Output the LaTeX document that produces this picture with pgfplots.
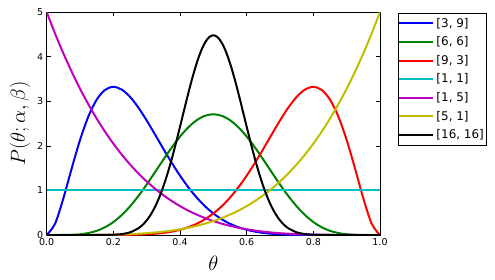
\documentclass[border=0pt]{standalone}
\usepackage{fontspec}
\setmainfont{DejaVu Sans}
\usepackage{pgfplots}
\usepackage{pgfplotstable}
\pgfplotsset{compat=1.18}
\definecolor{mb}{rgb}{0,0,1}
\definecolor{mg}{rgb}{0,0.5,0}
\definecolor{mr}{rgb}{1,0,0}
\definecolor{mc}{rgb}{0,0.75,0.75}
\definecolor{mm}{rgb}{0.75,0,0.75}
\definecolor{my}{rgb}{0.75,0.75,0}
\pgfplotstableread{
x b39 b66 b93 b15 b51
0 0 0 0 5 0
0.025 0.2527 0.00002 0 4.5184 0
0.05 0.8210 0.0007 0 4.0725 0.00003
0.075 1.4924 0.0045 0 3.6605 0.00016
0.1 2.1308 0.0164 0 3.2805 0.0005
0.125 2.6576 0.0434 0.00002 2.9309 0.0012
0.15 3.0349 0.0935 0.0001 2.6100 0.0025
0.175 3.2535 0.1741 0.0003 2.3163 0.0047
0.2 3.3219 0.2907 0.0008 2.0480 0.0080
0.225 3.2615 0.4473 0.0020 1.8038 0.0128
0.25 3.0973 0.6424 0.0042 1.5820 0.0195
0.275 2.8577 0.8738 0.0085 1.3814 0.0286
0.3 2.5682 1.1321 0.0159 1.2005 0.0405
0.325 2.2533 1.4084 0.0281 1.0380 0.0558
0.35 1.9322 1.6892 0.0471 0.8925 0.0750
0.375 1.6207 1.9606 0.0756 0.7629 0.0989
0.4 1.3302 2.2072 0.1168 0.6480 0.1280
0.425 1.0685 2.4159 0.1743 0.5466 0.1631
0.45 0.8393 2.5744 0.2518 0.4575 0.2050
0.475 0.6445 2.6734 0.3536 0.3798 0.2545
0.5 0.4834 2.7070 0.4834 0.3125 0.3125
0.525 0.3536 2.6734 0.6445 0.2545 0.3798
0.55 0.2518 2.5744 0.8393 0.2050 0.4575
0.575 0.1743 2.4159 1.0685 0.1631 0.5466
0.6 0.1168 2.2072 1.3302 0.1280 0.6480
0.625 0.0756 1.9606 1.6207 0.0989 0.7629
0.65 0.0471 1.6892 1.9322 0.0750 0.8925
0.675 0.0281 1.4084 2.2533 0.0558 1.0380
0.7 0.0159 1.1321 2.5682 0.0405 1.2005
0.725 0.0085 0.8738 2.8577 0.0286 1.3814
0.75 0.0042 0.6424 3.0973 0.0195 1.5820
0.775 0.0020 0.4473 3.2615 0.0128 1.8038
0.8 0.0008 0.2907 3.3219 0.0080 2.0480
0.825 0.0003 0.1741 3.2535 0.0047 2.3163
0.85 0.0001 0.0935 3.0349 0.0025 2.6100
0.875 0.00002 0.0434 2.6576 0.0012 2.9309
0.9 0 0.0164 2.1308 0.0005 3.2805
0.925 0 0.0045 1.4924 0.00016 3.6605
0.95 0 0.0007 0.8210 0.00003 4.0725
0.975 0 0.00002 0.2527 0 4.5184
1 0 0 0 0 5
}\betatab
\pgfplotstableread{
x y
0 0
0.1 0
0.15 0.0002
0.175 0.0012
0.2 0.0055
0.225 0.0202
0.25 0.0599
0.275 0.1504
0.2875 0.2257
0.3 0.3276
0.3125 0.4612
0.325 0.6307
0.3375 0.8392
0.35 1.0883
0.3625 1.3767
0.375 1.7009
0.3875 2.0544
0.4 2.4277
0.4125 2.8087
0.425 3.1833
0.4375 3.5362
0.45 3.8517
0.4625 4.1151
0.475 4.3134
0.4875 4.4366
0.5 4.4784
0.5125 4.4366
0.525 4.3134
0.5375 4.1151
0.55 3.8517
0.5625 3.5362
0.575 3.1833
0.5875 2.8087
0.6 2.4277
0.6125 2.0544
0.625 1.7009
0.6375 1.3767
0.65 1.0883
0.6625 0.8392
0.675 0.6307
0.6875 0.4612
0.7 0.3276
0.7125 0.2257
0.725 0.1504
0.75 0.0599
0.775 0.0202
0.8 0.0055
0.825 0.0012
0.85 0.0002
0.9 0
1 0
}\betasixteen
\begin{document}
\begin{tikzpicture}
\useasboundingbox (-46.7bp,-45bp) rectangle (448.3bp,235bp);
\begin{axis}[
  scale only axis,
  width=333.3bp, height=223bp,
  xmin=0, xmax=1, ymin=0, ymax=5,
  xtick={0,0.2,0.4,0.6,0.8,1},
  ytick={0,1,2,3,4,5},
  xticklabel style={/pgf/number format/.cd,fixed,fixed zerofill,precision=1},
  /pgf/number format/assume math mode=true,
  tick label style={font=\fontsize{9.5}{11}\selectfont},
  tick align=inside,
  major tick length=4bp,
  tick style={black, line width=0.5pt},
  axis line style={black, line width=0.8pt},
  xlabel={$\theta$},
  ylabel={$P(\theta;\alpha,\beta)$},
  label style={font=\fontsize{20}{21}\selectfont},
  xlabel style={at={(axis description cs:0.5,-0.125)},anchor=center},
  ylabel style={at={(axis description cs:-0.08,0.5)},anchor=center},
  legend style={at={(1.054,0.996)}, anchor=north west, draw=black, line width=0.6pt,
     font=\fontsize{12}{13}\selectfont, row sep=4bp, inner xsep=0bp, inner ysep=3bp},
  legend cell align=left,
  legend image code/.code={\path (-7bp,0bp) -- (27bp,0bp);\draw[#1, line width=2pt] (0bp,0bp) -- (19bp,0bp);},
]
\addplot[mb, smooth, line width=2pt] table[x=x,y=b39] {\betatab};
\addlegendentry{[3, 9]}
\addplot[mg, smooth, line width=2pt] table[x=x,y=b66] {\betatab};
\addlegendentry{[6, 6]}
\addplot[mr, smooth, line width=2pt] table[x=x,y=b93] {\betatab};
\addlegendentry{[9, 3]}
\addplot[mc, line width=2.2pt] coordinates {(0,1) (1,1)};
\addlegendentry{[1, 1]}
\addplot[mm, smooth, line width=2pt] table[x=x,y=b15] {\betatab};
\addlegendentry{[1, 5]}
\addplot[my, smooth, line width=2pt] table[x=x,y=b51] {\betatab};
\addlegendentry{[5, 1]}
\addplot[black, smooth, line width=2pt] table[x=x,y=y] {\betasixteen};
\addlegendentry{[16, 16]}
\end{axis}
\end{tikzpicture}
\end{document}
